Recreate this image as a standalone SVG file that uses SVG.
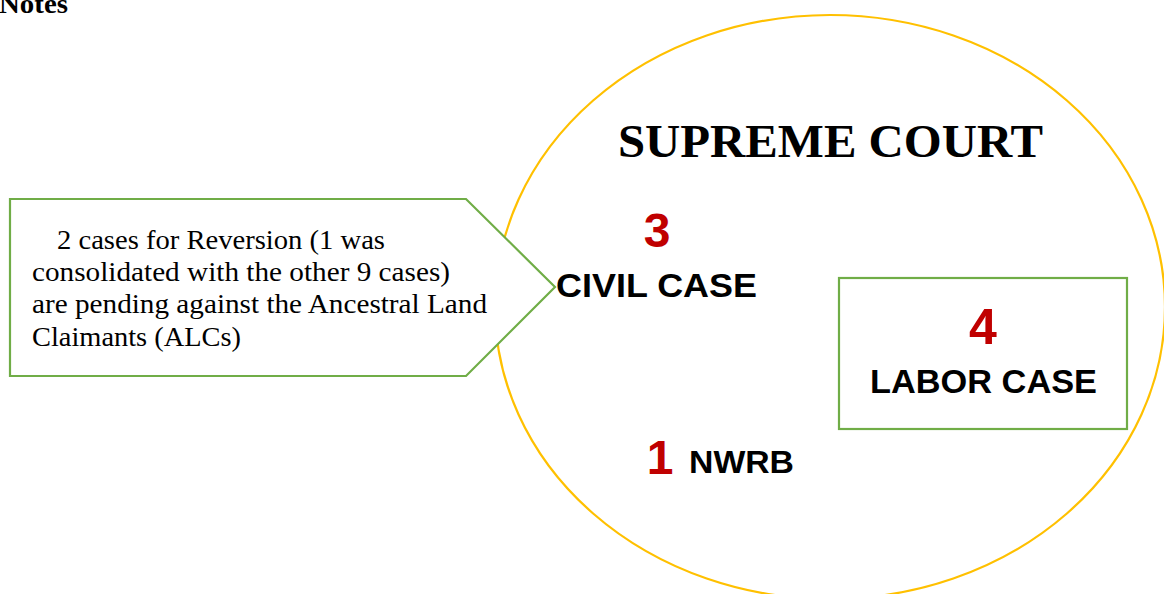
<svg xmlns="http://www.w3.org/2000/svg" width="1164" height="594" viewBox="0 0 1164 594">
  <style>
    .serif { font-family: "Liberation Serif", "Times New Roman", serif; fill: #000; }
    .sans { font-family: "Liberation Sans", Arial, sans-serif; font-weight: bold; }
    .num { fill: #C00000; }
    .lbl { fill: #000; }
    .green { fill: #fff; stroke: #70AD47; stroke-width: 2.2; }
  </style>
  <rect width="1164" height="594" fill="#fff"/>
  <text class="serif" x="-1" y="13" font-size="28" font-weight="bold" textLength="69" lengthAdjust="spacingAndGlyphs">Notes</text>

  <g id="supreme-court">
    <ellipse cx="830" cy="307" rx="335" ry="292" fill="none" stroke="#FFC000" stroke-width="2.2"/>
    <text class="serif" x="618" y="157" font-size="46" font-weight="bold" textLength="425" lengthAdjust="spacingAndGlyphs">SUPREME COURT</text>
  </g>

  <g id="callout">
    <polygon class="green" points="10,199 466,199 555,287 466,376 10,376"/>
    <text class="serif" font-size="27">
      <tspan x="57" y="249" textLength="328" lengthAdjust="spacingAndGlyphs">2 cases for Reversion (1 was</tspan>
      <tspan x="32" y="281" textLength="418" lengthAdjust="spacingAndGlyphs">consolidated with the other 9 cases)</tspan>
      <tspan x="32" y="313" textLength="455" lengthAdjust="spacingAndGlyphs">are pending against the Ancestral Land</tspan>
      <tspan x="32" y="346" textLength="209" lengthAdjust="spacingAndGlyphs">Claimants (ALCs)</tspan>
    </text>
  </g>

  <g id="civil-case">
    <text class="sans num" x="657" y="247" font-size="48" text-anchor="middle">3</text>
    <text class="sans lbl" x="556" y="297" font-size="34" textLength="201" lengthAdjust="spacingAndGlyphs">CIVIL CASE</text>
  </g>

  <g id="labor-case">
    <rect class="green" x="839" y="278" width="288" height="151"/>
    <text class="sans num" x="983" y="344" font-size="50" text-anchor="middle">4</text>
    <text class="sans lbl" x="870" y="393" font-size="33" textLength="227" lengthAdjust="spacingAndGlyphs">LABOR CASE</text>
  </g>

  <g id="nwrb">
    <text class="sans num" x="660" y="474" font-size="48" text-anchor="middle">1</text>
    <text class="sans lbl" x="689" y="473" font-size="31" textLength="105" lengthAdjust="spacingAndGlyphs">NWRB</text>
  </g>

  <g id="connectors"></g>
</svg>
